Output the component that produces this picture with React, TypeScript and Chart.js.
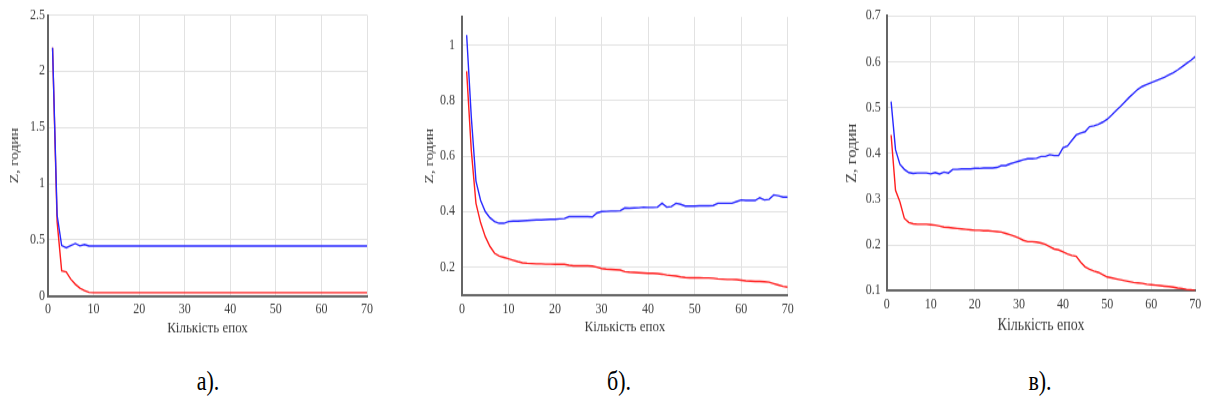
import React, { useEffect, useRef } from "react";
import { Chart, registerables } from "chart.js";

Chart.register(...registerables);

// Epoch numbers on the x axis
const epochs = Array.from({ length: 70 }, (_, i) => i + 1);

// Panel а) series
const zBlueA = [
  2.21, 0.72, 0.45, 0.43, 0.45, 0.467, 0.447, 0.458, 0.445, 0.445,
  0.445, 0.445, 0.445, 0.445, 0.445, 0.445, 0.445, 0.445, 0.445, 0.445,
  0.445, 0.445, 0.445, 0.445, 0.445, 0.445, 0.445, 0.445, 0.445, 0.445,
  0.445, 0.445, 0.445, 0.445, 0.445, 0.445, 0.445, 0.445, 0.445, 0.445,
  0.445, 0.445, 0.445, 0.445, 0.445, 0.445, 0.445, 0.445, 0.445, 0.445,
  0.445, 0.445, 0.445, 0.445, 0.445, 0.445, 0.445, 0.445, 0.445, 0.445,
  0.445, 0.445, 0.445, 0.445, 0.445, 0.445, 0.445, 0.445, 0.445, 0.445,
];
const zRedA = [
  2.21, 0.66, 0.225, 0.215, 0.15, 0.105, 0.07, 0.048, 0.033, 0.03,
  0.03, 0.03, 0.03, 0.03, 0.03, 0.03, 0.03, 0.03, 0.03, 0.03,
  0.03, 0.03, 0.03, 0.03, 0.03, 0.03, 0.03, 0.03, 0.03, 0.03,
  0.03, 0.03, 0.03, 0.03, 0.03, 0.03, 0.03, 0.03, 0.03, 0.03,
  0.03, 0.03, 0.03, 0.03, 0.03, 0.03, 0.03, 0.03, 0.03, 0.03,
  0.03, 0.03, 0.03, 0.03, 0.03, 0.03, 0.03, 0.03, 0.03, 0.03,
  0.03, 0.03, 0.03, 0.03, 0.03, 0.03, 0.03, 0.03, 0.03, 0.03,
];

// Panel б) series
const zBlueB = [
  1.035, 0.74, 0.51, 0.44, 0.4, 0.378, 0.364, 0.358, 0.358, 0.364,
  0.366, 0.366, 0.367, 0.368, 0.369, 0.37, 0.37, 0.371, 0.372, 0.372,
  0.374, 0.375, 0.382, 0.382, 0.382, 0.382, 0.382, 0.381, 0.395, 0.4,
  0.401, 0.402, 0.402, 0.403, 0.413, 0.412, 0.413, 0.414, 0.416, 0.415,
  0.415, 0.416, 0.43, 0.416, 0.418, 0.43, 0.426, 0.42, 0.42, 0.42,
  0.421, 0.421, 0.421, 0.422, 0.43, 0.43, 0.43, 0.43, 0.436, 0.442,
  0.44, 0.44, 0.44, 0.45, 0.442, 0.444, 0.46, 0.457, 0.452, 0.452,
];
const zRedB = [
  0.905, 0.62, 0.43, 0.36, 0.31, 0.275, 0.25, 0.24, 0.235, 0.23,
  0.225, 0.22, 0.216, 0.214, 0.213, 0.212, 0.212, 0.211, 0.211, 0.21,
  0.21, 0.21, 0.207, 0.205, 0.205, 0.205, 0.205, 0.204, 0.2, 0.195,
  0.193, 0.192, 0.191, 0.19, 0.184, 0.182, 0.181, 0.18, 0.179, 0.178,
  0.178, 0.177, 0.175, 0.172, 0.17, 0.168, 0.165, 0.163, 0.162, 0.162,
  0.162, 0.161, 0.161, 0.16, 0.158, 0.157, 0.156, 0.156, 0.155, 0.153,
  0.151, 0.15, 0.149, 0.149, 0.148, 0.146, 0.141, 0.136, 0.131, 0.128,
];

// Panel в) series
const zBlueC = [
  0.513, 0.408, 0.376, 0.365, 0.358, 0.356, 0.357, 0.357, 0.357, 0.355,
  0.358, 0.355, 0.359, 0.357, 0.365, 0.365, 0.366, 0.366, 0.366, 0.367,
  0.367, 0.368, 0.368, 0.368, 0.369, 0.373, 0.373, 0.377, 0.38, 0.383,
  0.386, 0.388, 0.388, 0.389, 0.393, 0.393, 0.397, 0.395, 0.395, 0.412,
  0.416, 0.428, 0.44, 0.444, 0.447, 0.458, 0.46, 0.463, 0.468, 0.474,
  0.483, 0.493, 0.502, 0.512, 0.522, 0.531, 0.54, 0.546, 0.55, 0.554,
  0.558, 0.562, 0.566, 0.571, 0.576, 0.582, 0.589, 0.596, 0.603, 0.611,
];
const zRedC = [
  0.44, 0.319, 0.294, 0.258, 0.249, 0.246, 0.245, 0.245, 0.245, 0.244,
  0.243, 0.241, 0.239, 0.238, 0.237, 0.236, 0.235, 0.234, 0.233, 0.232,
  0.232, 0.231, 0.231, 0.23, 0.229, 0.228, 0.225, 0.222, 0.219, 0.215,
  0.21, 0.207, 0.207, 0.206, 0.204, 0.201, 0.196, 0.191, 0.189, 0.185,
  0.18, 0.177, 0.175, 0.162, 0.152, 0.147, 0.143, 0.14, 0.135, 0.13,
  0.128, 0.126, 0.124, 0.122, 0.12, 0.118, 0.117, 0.116, 0.114, 0.113,
  0.112, 0.111, 0.11, 0.109, 0.108, 0.106, 0.105, 0.103, 0.102, 0.1,
];

// Tick labels
const xTicks = [0, 10, 20, 30, 40, 50, 60, 70];
const yTicksA = [0, 0.5, 1, 1.5, 2, 2.5];
const yTicksB = [0.2, 0.4, 0.6, 0.8, 1];
const yTicksC = [0.1, 0.2, 0.3, 0.4, 0.5, 0.6, 0.7];

// Texts
const xTitle = "Кількість епох";
const yTitle = "Z, годин";
const captions = ["а).", "б).", "в)."];

// The whole figure is drawn slightly stretched vertically
const STRETCH = 1.2;
const CANVAS_H = 288;
const FONT = '"Liberation Serif", "Times New Roman", serif';
const TEXT = "#3c3c3c";
const BLUE = "rgb(40, 40, 255)";
const RED = "rgb(255, 30, 30)";

type PanelLayout = {
  left: number;
  width: number;
  yWidth: number;
  xHeight: number;
  padTop: number;
  padRight: number;
  yTickPad: number;
  yTitlePad: number;
  xTickPad: number;
  xTitlePad: number;
  titleSize: number;
  yMin: number;
  yMax: number;
  yTicks: number[];
  blue: number[];
  red: number[];
};

const panels: PanelLayout[] = [
  {
    left: 0, width: 380, yWidth: 48, xHeight: 41.3, padTop: 12.5, padRight: 13,
    yTickPad: 3, yTitlePad: 7.2, xTickPad: 4.4, xTitlePad: 6.9, titleSize: 13,
    yMin: 0, yMax: 2.5, yTicks: yTicksA, blue: zBlueA, red: zRedA,
  },
  {
    left: 400, width: 400, yWidth: 62, xHeight: 42.2, padTop: 6.7, padRight: 12.3,
    yTickPad: 7, yTitlePad: 22.2, xTickPad: 5.3, xTitlePad: 7.3, titleSize: 13,
    yMin: 0.1, yMax: 1.1, yTicks: yTicksB, blue: zBlueB, red: zRedB,
  },
  {
    left: 810, width: 396, yWidth: 76.7, xHeight: 45.75, padTop: 8.3, padRight: 7.7,
    yTickPad: 6, yTitlePad: 34.1, xTickPad: 4.7, xTitlePad: 8.1, titleSize: 14,
    yMin: 0.1, yMax: 0.7, yTicks: yTicksC, blue: zBlueC, red: zRedC,
  },
];

const captionX = [208, 619, 1040];

const fmt = (v: number | string) => String(+Number(v).toFixed(2));

function Panel({ p }: { p: PanelLayout }) {
  const ref = useRef<HTMLCanvasElement>(null);

  useEffect(() => {
    const canvas = ref.current;
    if (!canvas) return;
    const chart = new Chart(canvas, {
      type: "line",
      data: {
        datasets: [
          {
            data: epochs.map((e, i) => ({ x: e, y: p.blue[i] })),
            borderColor: BLUE,
            borderWidth: 1.4,
            pointRadius: 0,
            tension: 0,
            fill: false,
          },
          {
            data: epochs.map((e, i) => ({ x: e, y: p.red[i] })),
            borderColor: RED,
            borderWidth: 1.4,
            pointRadius: 0,
            tension: 0,
            fill: false,
          },
        ],
      },
      options: {
        responsive: false,
        animation: false,
        events: [],
        layout: { padding: { top: p.padTop, right: p.padRight, left: 0, bottom: 0 } },
        plugins: { legend: { display: false }, tooltip: { enabled: false } },
        scales: {
          x: {
            type: "linear",
            min: 0,
            max: 70,
            afterBuildTicks: (scale: any) => {
              scale.ticks = xTicks.map((v) => ({ value: v }));
            },
            afterFit: (scale: any) => {
              scale.height = p.xHeight;
            },
            grid: { color: "#e2e2e2", lineWidth: 1, drawTicks: false },
            border: { display: true, color: "#666", width: 2 },
            ticks: {
              padding: p.xTickPad,
              color: TEXT,
              font: { family: FONT, size: 12 },
              maxRotation: 0,
              autoSkip: false,
              callback: (v: any) => fmt(v),
            },
            title: {
              display: true,
              text: xTitle,
              color: TEXT,
              font: { family: FONT, size: p.titleSize },
              padding: { top: 0, bottom: p.xTitlePad },
            },
          },
          y: {
            type: "linear",
            min: p.yMin,
            max: p.yMax,
            afterBuildTicks: (scale: any) => {
              scale.ticks = p.yTicks.map((v) => ({ value: v }));
            },
            afterFit: (scale: any) => {
              scale.width = p.yWidth;
            },
            grid: { color: "#e2e2e2", lineWidth: 1, drawTicks: false },
            border: { display: true, color: "#666", width: 2 },
            ticks: {
              padding: p.yTickPad,
              color: TEXT,
              font: { family: FONT, size: 12 },
              autoSkip: false,
              callback: (v: any) => fmt(v),
            },
            title: {
              display: true,
              text: yTitle,
              color: TEXT,
              font: { family: FONT, size: p.titleSize },
              padding: { top: p.yTitlePad, bottom: 0 },
            },
          },
        },
      },
    });
    return () => chart.destroy();
  }, [p]);

  return (
    <canvas
      ref={ref}
      width={p.width}
      height={CANVAS_H}
      style={{
        position: "absolute",
        left: p.left,
        top: 0,
        width: p.width,
        height: CANVAS_H,
      }}
    />
  );
}

export default function App() {
  return (
    <div
      style={{
        position: "absolute",
        left: 0,
        top: 0,
        width: 1206,
        height: 407 / STRETCH,
        transform: `scaleY(${STRETCH})`,
        transformOrigin: "0 0",
        background: "#fff",
        overflow: "hidden",
      }}
    >
      {panels.map((p, i) => (
        <Panel key={i} p={p} />
      ))}
      {captions.map((c, i) => (
        <div
          key={c}
          style={{
            position: "absolute",
            left: captionX[i],
            top: 382 / STRETCH,
            transform: "translate(-50%, -50%)",
            fontFamily: FONT,
            fontSize: 22,
            color: "#000",
            whiteSpace: "nowrap",
            lineHeight: 1,
          }}
        >
          {c}
        </div>
      ))}
    </div>
  );
}
